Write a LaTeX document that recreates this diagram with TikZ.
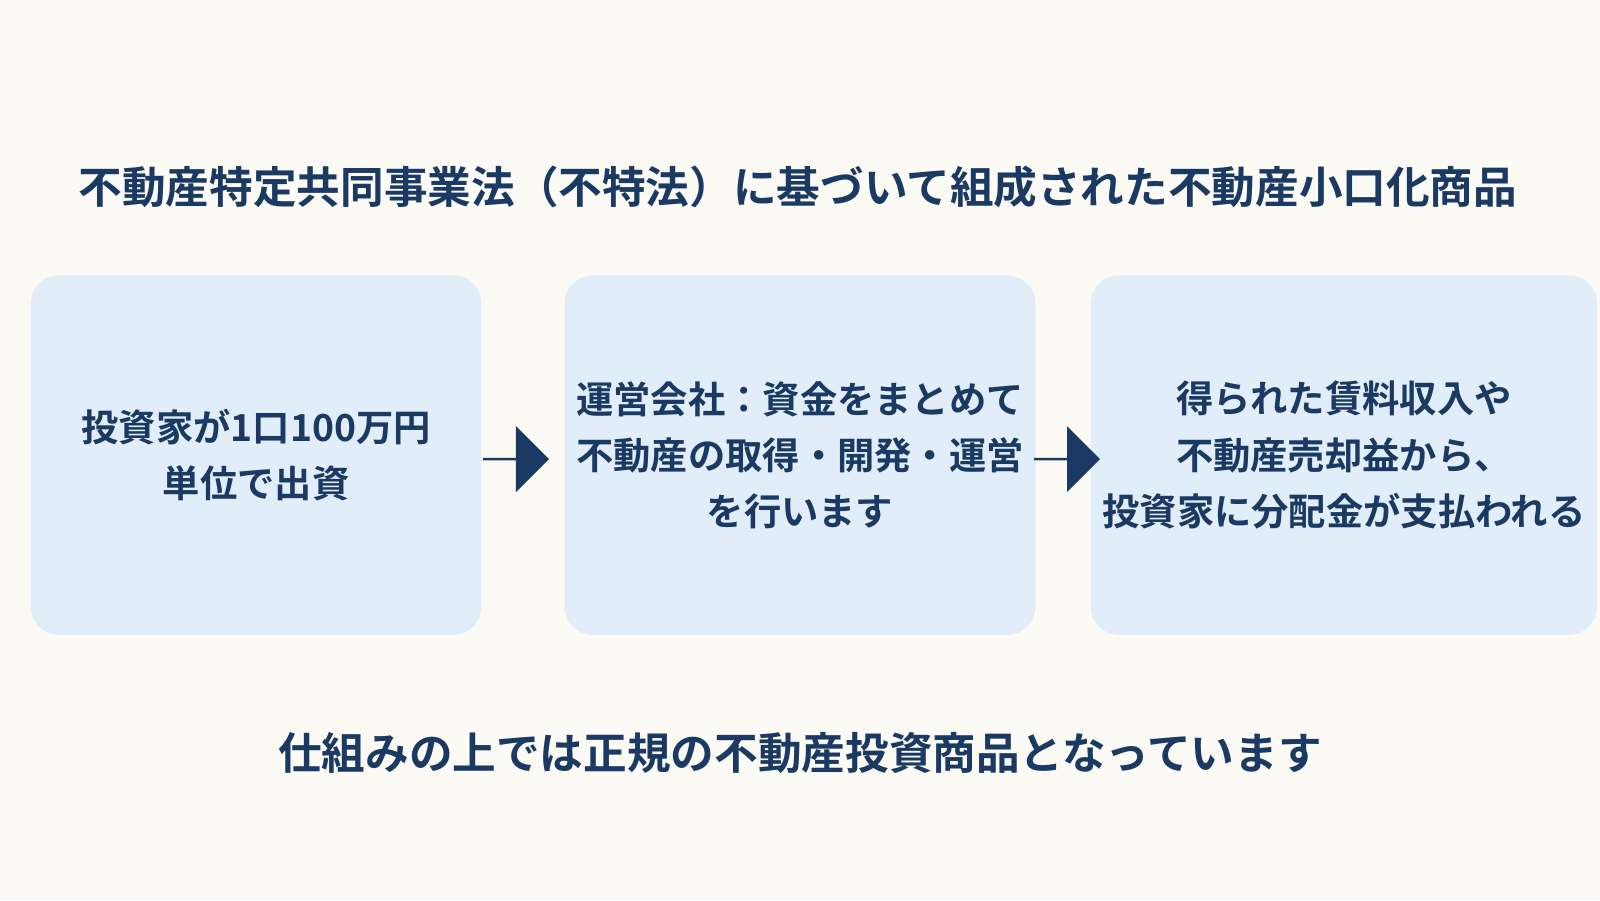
\documentclass[tikz,border=0pt]{standalone}
\usepackage{fontspec}
\setmainfont{Noto Sans CJK JP}[BoldFont={* Bold}]
\usetikzlibrary{shapes.arrows}
\definecolor{bgcol}{HTML}{FBFAF5}
\definecolor{boxcol}{HTML}{E1EDF9}
\definecolor{navy}{HTML}{1B3A63}
\tikzset{
  stage/.style={fill=boxcol,rounded corners=8pt,minimum width=4.5cm,minimum height=3.59cm,
    align=center,text=navy,font=\fontsize{10.6}{16}\selectfont\bfseries},
  flow/.style={single arrow,fill=navy,minimum height=0.66cm,minimum width=0.66cm,
    single arrow head extend=0.17cm,inner sep=0pt},
  heading/.style={text=navy,font=\fontsize{12.4}{14}\selectfont\bfseries}
}
\begin{document}
\begin{tikzpicture}[x=0.0102cm,y=-0.0102cm]
\fill[bgcol] (0,0) rectangle (1568,882);
\useasboundingbox (0,0) rectangle (1568,882);
\node[heading] (title) at (782,183) {不動産特定共同事業法（不特法）に基づいて組成された不動産小口化商品};
\node[stage] (invest) at (251,446) {投資家が1口100万円\\単位で出資};
\node[stage,minimum width=4.67cm] (operate) at (784,446) {運営会社：資金をまとめて\\不動産の取得・開発・運営\\を行います};
\node[stage] (pay) at (1317,446) {得られた賃料収入や\\不動産売却益から、\\投資家に分配金が支払われる};
\node[flow] (a1) at (505,450) {};
\node[flow] (a2) at (1045,450) {};
\node[heading] (note) at (784,738) {仕組みの上では正規の不動産投資商品となっています};
\end{tikzpicture}
\end{document}
